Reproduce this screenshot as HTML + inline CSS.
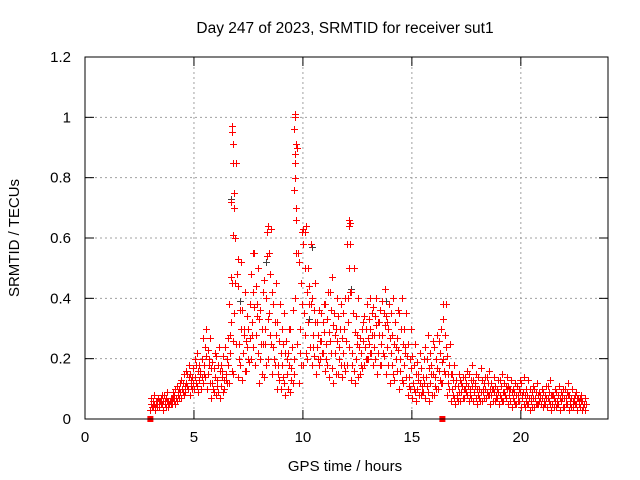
<!DOCTYPE html>
<html><head><meta charset="utf-8"><style>
html,body{margin:0;padding:0;background:#fff}
svg{display:block;font-family:"Liberation Sans",sans-serif}
#marks path{shape-rendering:crispEdges}
</style></head><body>
<svg id="chart" width="640" height="480">
<text x="345" y="33" font-size="15.5" text-anchor="middle">Day 247 of 2023, SRMTID for receiver sut1</text>
<text x="0" y="0" font-size="15" text-anchor="middle" transform="translate(19,238) rotate(-90)">SRMTID / TECUs</text>
<text x="345" y="471" font-size="15" text-anchor="middle">GPS time / hours</text>
<g id="grid"></g>
<g id="axes"></g>
<g id="marks"></g>
<rect x="85" y="57" width="523" height="362" fill="none" stroke="#000" stroke-width="1"/>
</svg>
<script>
const xTicks=[0,5,10,15,20];
const yTicks=[0,0.2,0.4,0.6,0.8,1,1.2];
const yTickLabels=["0","0.2","0.4","0.6","0.8","1","1.2"];
const times=[3.0,3.2,3.4,3.6,3.8,4.0,4.2,4.4,4.6,4.8,5.0,5.2,5.4,5.6,5.8,6.0,6.2,6.4,6.6,6.8,7.0,7.2,7.4,7.6,7.8,8.0,8.2,8.4,8.6,8.8,9.0,9.2,9.4,9.6,9.8,10.0,10.2,10.4,10.6,10.8,11.0,11.2,11.4,11.6,11.8,12.0,12.2,12.4,12.6,12.8,13.0,13.2,13.4,13.6,13.8,14.0,14.2,14.4,14.6,14.8,15.0,15.2,15.4,15.6,15.8,16.0,16.2,16.4,16.6,16.8,17.0,17.2,17.4,17.6,17.8,18.0,18.2,18.4,18.6,18.8,19.0,19.2,19.4,19.6,19.8,20.0,20.2,20.4,20.6,20.8,21.0,21.2,21.4,21.6,21.8,22.0,22.2,22.4,22.6,22.8];
const hi=[.08,.07,.08,.09,.07,.10,.12,.15,.18,.17,.22,.20,.30,.27,.22,.24,.21,.27,.45,.85,.52,.42,.38,.55,.50,.42,.54,.63,.45,.38,.35,.30,.36,.90,.62,.64,.58,.45,.36,.38,.42,.47,.40,.38,.40,.65,.50,.40,.32,.38,.35,.40,.36,.43,.38,.40,.36,.40,.35,.30,.25,.22,.20,.28,.26,.28,.30,.38,.25,.18,.15,.14,.16,.18,.15,.17,.14,.16,.14,.13,.15,.14,.13,.12,.13,.14,.13,.11,.12,.10,.11,.13,.10,.11,.10,.12,.10,.09,.08,.07];
const lo=[.03,.03,.04,.03,.04,.05,.06,.07,.09,.08,.10,.09,.12,.10,.07,.08,.07,.10,.12,.15,.14,.13,.16,.20,.18,.12,.14,.20,.15,.10,.10,.08,.09,.15,.12,.18,.20,.18,.15,.20,.16,.14,.12,.15,.14,.18,.13,.12,.15,.18,.20,.18,.15,.18,.15,.12,.13,.10,.12,.08,.07,.06,.08,.07,.06,.08,.10,.12,.08,.06,.05,.06,.07,.06,.06,.05,.06,.07,.05,.06,.05,.06,.05,.04,.05,.04,.04,.03,.04,.05,.04,.04,.03,.04,.03,.04,.03,.04,.03,.03];
const m1=[.05,.05,.06,.05,.05,.07,.08,.10,.12,.11,.14,.13,.18,.15,.12,.13,.11,.15,.22,.35,.25,.22,.24,.32,.28,.20,.25,.35,.24,.18,.18,.15,.17,.40,.30,.35,.32,.28,.24,.26,.25,.26,.22,.24,.22,.32,.22,.20,.22,.24,.25,.28,.22,.28,.24,.22,.20,.20,.18,.14,.12,.10,.11,.14,.12,.14,.16,.20,.12,.10,.08,.09,.10,.10,.09,.08,.09,.09,.08,.08,.08,.09,.08,.07,.08,.07,.06,.06,.07,.06,.06,.07,.05,.06,.06,.07,.05,.06,.05,.04];
const m2=[.06,.06,.07,.07,.06,.08,.10,.12,.15,.14,.18,.16,.24,.20,.17,.18,.16,.20,.32,.60,.36,.30,.30,.42,.38,.30,.40,.48,.32,.26,.25,.22,.24,.70,.45,.50,.44,.36,.28,.32,.33,.36,.30,.30,.30,.50,.35,.28,.30,.30,.30,.34,.28,.35,.30,.28,.27,.30,.24,.20,.18,.15,.14,.20,.18,.20,.22,.28,.18,.13,.11,.11,.12,.13,.12,.10,.12,.12,.10,.10,.11,.11,.10,.09,.10,.09,.08,.09,.09,.08,.08,.09,.07,.08,.08,.09,.07,.08,.07,.05];
const a5=[.04,.06,.05,.06,.05,.06,.09,.09,.11,.13,.12,.15,.15,.18,.10,.11,.14,.13,.28,.45,.20,.28,.20,.28,.34,.25,.30,.28,.20,.15,.14,.20,.13,.55,.22,.28,.38,.24,.20,.22,.20,.22,.28,.20,.18,.40,.18,.25,.18,.20,.22,.24,.32,.22,.32,.18,.24,.16,.22,.11,.10,.13,.09,.11,.15,.11,.13,.16,.15,.08,.07,.12,.09,.08,.11,.07,.10,.08,.10,.07,.07,.08,.10,.06,.06,.08,.05,.07,.05,.07,.05,.06,.08,.05,.07,.05,.06,.05,.06,.04];
const a6=[.07,.04,.06,.08,.06,.09,.11,.13,.16,.15,.20,.18,.27,.23,.19,.21,.18,.24,.38,.70,.44,.36,.34,.48,.44,.36,.46,.55,.38,.32,.30,.26,.30,.80,.52,.58,.50,.40,.32,.35,.38,.42,.35,.34,.35,.58,.42,.34,.27,.34,.33,.37,.32,.39,.34,.35,.32,.35,.30,.25,.21,.19,.17,.24,.22,.24,.26,.33,.21,.15,.13,.13,.14,.15,.13,.14,.13,.14,.12,.11,.13,.12,.11,.10,.11,.12,.10,.10,.10,.09,.09,.11,.08,.09,.09,.10,.08,.07,.07,.06];
const a7=[.04,.04,.05,.04,.05,.05,.07,.08,.10,.10,.11,.10,.14,.12,.09,.09,.09,.12,.16,.25,.18,.16,.19,.24,.22,.15,.18,.25,.18,.13,.12,.10,.12,.25,.18,.22,.24,.21,.18,.22,.18,.17,.15,.18,.16,.24,.16,.14,.17,.20,.22,.20,.18,.21,.18,.15,.16,.13,.14,.10,.09,.08,.09,.09,.08,.10,.12,.15,.10,.07,.06,.07,.08,.07,.07,.06,.07,.08,.06,.07,.06,.07,.06,.05,.06,.05,.05,.04,.05,.05,.05,.05,.04,.05,.04,.05,.04,.05,.04,.03];
const a8=[.05,.06,.06,.06,.07,.07,.09,.11,.14,.12,.16,.14,.21,.17,.14,.16,.13,.18,.26,.48,.30,.26,.27,.37,.33,.25,.33,.42,.28,.22,.22,.18,.20,.55,.38,.42,.38,.32,.26,.29,.29,.31,.26,.27,.26,.42,.29,.24,.26,.27,.28,.31,.25,.31,.27,.25,.23,.25,.21,.17,.15,.12,.12,.17,.15,.17,.19,.24,.15,.11,.09,.10,.11,.11,.10,.09,.10,.10,.09,.09,.09,.10,.09,.08,.09,.08,.07,.07,.08,.07,.07,.08,.06,.07,.07,.08,.06,.07,.06,.05];
const spikeT=[6.75,6.75,6.8,6.8,6.85,6.7,6.8,6.72,9.65,9.65,9.6,9.7,9.65,9.65,9.6,9.7,12.1,12.1,12.15,8.4,8.35,10.0,10.1,7.7,13.1,16.45,7.0,10.3];
const spikeV=[.97,.95,.91,.85,.75,.72,.61,.47,1.01,1.0,.96,.91,.88,.85,.76,.66,.66,.64,.58,.64,.62,.63,.62,.55,.40,.38,.53,.44];
const grayT=[6.7,9.6,9.7,10.4,13.8,7.1,10.3,8.3,12.2];
const grayV=[.73,.76,.66,.57,.39,.39,.33,.52,.43];
const flagT=[3.0,16.4];
const X=t=>85+t*(523/24);
const Y=v=>419-v*(362/1.2);
const NS="http://www.w3.org/2000/svg";
const grid=document.getElementById('grid'),axes=document.getElementById('axes'),marks=document.getElementById('marks');
function mk(tag,attrs,parent){const e=document.createElementNS(NS,tag);for(const k in attrs)e.setAttribute(k,attrs[k]);parent.appendChild(e);return e;}
yTicks.forEach((v,i)=>{
 const y=Y(v);
 if(i>0&&i<yTicks.length-1){const g=mk('line',{x1:85,x2:608,y1:y,y2:y,stroke:'#a0a0a0','stroke-dasharray':'2,3'},grid);
 
 }
 mk('line',{x1:85,x2:94,y1:y,y2:y,stroke:'#000'},axes);
 mk('line',{x1:599,x2:608,y1:y,y2:y,stroke:'#000'},axes);
 const t=mk('text',{x:71,y:y+5,'font-size':15,'text-anchor':'end'},axes);t.textContent=yTickLabels[i];
 
 
});
xTicks.forEach(v=>{
 const x=X(v);
 if(v>0){const g=mk('line',{x1:x,x2:x,y1:57,y2:419,stroke:'#a0a0a0','stroke-dasharray':'2,3'},grid);
 
 }
 mk('line',{x1:x,x2:x,y1:410,y2:419,stroke:'#000'},axes);
 mk('line',{x1:x,x2:x,y1:57,y2:66,stroke:'#000'},axes);
 const t=mk('text',{x:x,y:442,'font-size':15,'text-anchor':'middle'},axes);t.textContent=String(v);
 
 
});
function plus(t,v,col){
 const x=Math.round(X(t))+0.5,y=Math.round(Y(v))+0.5;
 const p=mk('path',{d:`M${x-3.5},${y}H${x+3.5}M${x},${y-3.5}V${y+3.5}`,stroke:col,'stroke-width':1,fill:'none'},marks);
 
 
}
grayT.forEach((t,i)=>plus(t,grayV[i],'#404040'));
const series=[lo,a6,m1,a5,m2,a7,hi,a8];
series.forEach((arr,k)=>times.forEach((t,i)=>plus(t+k*0.025,arr[i],'#ff0000')));
spikeT.forEach((t,i)=>plus(t,spikeV[i],'#ff0000'));
flagT.forEach(t=>{
 const r=mk('rect',{x:X(t)-3,y:Y(0)-3,width:6,height:6,fill:'#ff0000'},marks);
 
 
});
</script>
</body></html>
